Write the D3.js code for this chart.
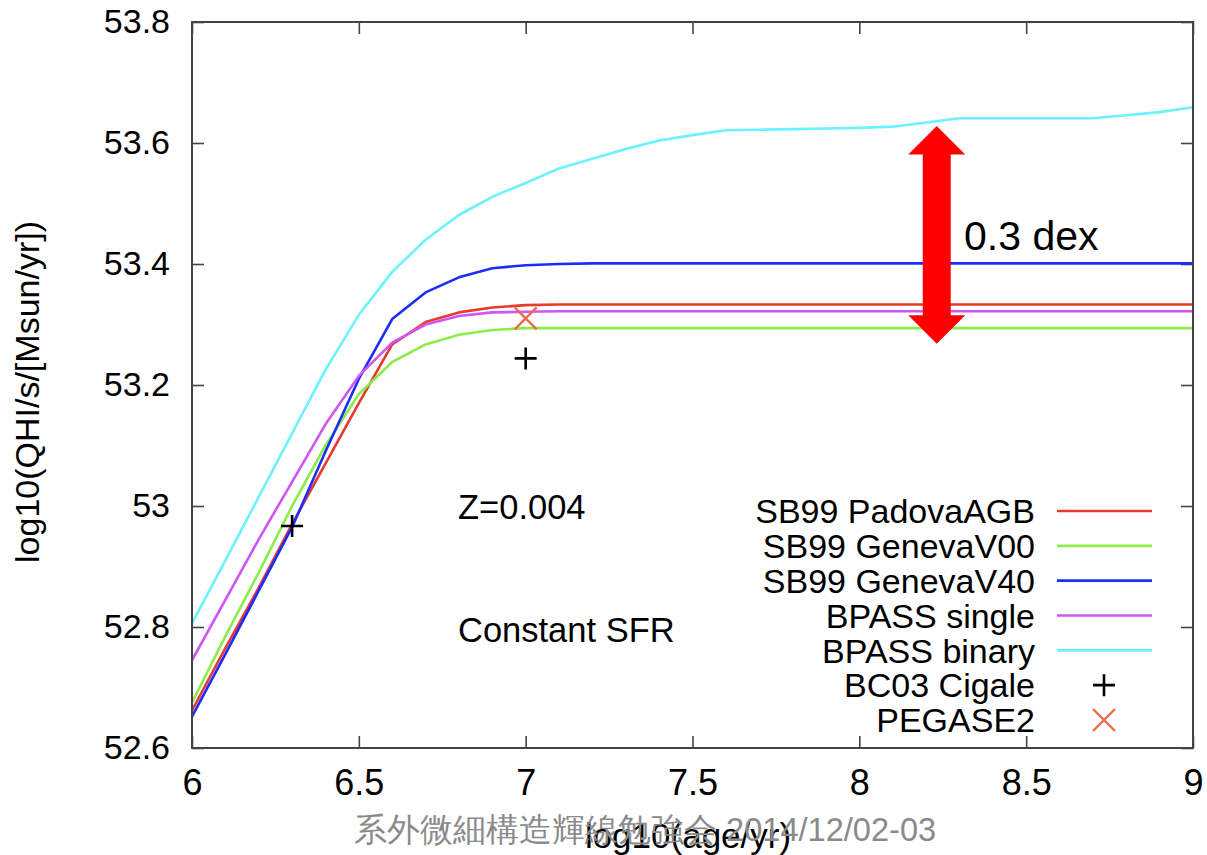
<!DOCTYPE html>
<html>
<head>
<meta charset="utf-8">
<script src="https://cdn.jsdelivr.net/npm/d3@7"></script>
<style>
  body { margin: 0; background: #fff; }
  text { font-family: "Liberation Sans", Arial, sans-serif; }
</style>
</head>
<body>
<svg width="1207" height="855"></svg>
<script>
// log10(age/yr) sampling of the model tracks
var ages = [6.0, 6.1, 6.2, 6.3, 6.4, 6.5, 6.6, 6.7, 6.8, 6.9, 7.0,
            7.1, 7.2, 7.3, 7.4, 7.5, 7.6, 7.7, 7.8, 7.9, 8.0,
            8.1, 8.2, 8.3, 8.4, 8.5, 8.6, 8.7, 8.8, 8.9, 9.0];

// log10(QHI/s/[Msun/yr]) for each model
var padovaAGB = [52.662, 52.765, 52.865, 52.970, 53.070, 53.170, 53.267, 53.304, 53.320, 53.328, 53.332,
                 53.333, 53.333, 53.333, 53.333, 53.333, 53.333, 53.333, 53.333, 53.333, 53.333,
                 53.333, 53.333, 53.333, 53.333, 53.333, 53.333, 53.333, 53.333, 53.333, 53.333];
var genevaV00 = [52.675, 52.785, 52.890, 53.000, 53.100, 53.185, 53.238, 53.267, 53.283, 53.291, 53.294,
                 53.294, 53.294, 53.294, 53.294, 53.294, 53.294, 53.294, 53.294, 53.294, 53.294,
                 53.294, 53.294, 53.294, 53.294, 53.294, 53.294, 53.294, 53.294, 53.294, 53.294];
var genevaV40 = [52.652, 52.755, 52.860, 52.965, 53.090, 53.210, 53.309, 53.353, 53.378, 53.393, 53.398,
                 53.400, 53.401, 53.401, 53.401, 53.401, 53.401, 53.401, 53.401, 53.401, 53.401,
                 53.401, 53.401, 53.401, 53.401, 53.401, 53.401, 53.401, 53.401, 53.401, 53.401];
var bpassSingle = [52.745, 52.845, 52.945, 53.040, 53.135, 53.215, 53.270, 53.300, 53.314, 53.320, 53.321,
                   53.322, 53.322, 53.322, 53.322, 53.322, 53.322, 53.322, 53.322, 53.322, 53.322,
                   53.322, 53.322, 53.322, 53.322, 53.322, 53.322, 53.322, 53.322, 53.322, 53.322];
var bpassBinary = [52.806, 52.910, 53.015, 53.120, 53.225, 53.316, 53.387, 53.440, 53.481, 53.511, 53.534,
                   53.558, 53.574, 53.590, 53.604, 53.613, 53.621, 53.622, 53.623, 53.624, 53.625,
                   53.627, 53.634, 53.641, 53.641, 53.641, 53.641, 53.641, 53.646, 53.651, 53.659];

// single-point models
var cigaleAges = [6.3, 7.0];
var cigaleQ = [52.967, 53.244];
var pegaseAges = [7.0];
var pegaseQ = [53.310];

var seriesNames = ['SB99 PadovaAGB', 'SB99 GenevaV00', 'SB99 GenevaV40', 'BPASS single', 'BPASS binary'];
var seriesValues = [padovaAGB, genevaV00, genevaV40, bpassSingle, bpassBinary];
var seriesColors = ['#e8392f', '#8ced48', '#1a2dff', '#cf55f5', '#6af2ff'];

var xTicks = [6, 6.5, 7, 7.5, 8, 8.5, 9];
var yTicks = [52.6, 52.8, 53.0, 53.2, 53.4, 53.6, 53.8];

// annotation: 0.3 dex arrow
var arrowAge = 8.232;
var arrowTop = 53.628;
var arrowBottom = 53.268;

var svg = d3.select('svg');
var plot = {l: 192, r: 1193, t: 22, b: 748};

var x = d3.scaleLinear().domain([6, 9]).range([plot.l, plot.r]);
var y = d3.scaleLinear().domain([52.6, 53.8]).range([plot.b, plot.t]);

svg.append('clipPath').attr('id', 'clip')
  .append('rect')
  .attr('x', plot.l).attr('y', plot.t)
  .attr('width', plot.r - plot.l).attr('height', plot.b - plot.t);

// axes: ticks inside, mirrored
var tickLen = 12;
var axisColor = '#444';

var bottomAxis = svg.append('g')
  .attr('transform', 'translate(0,' + plot.b + ')')
  .call(d3.axisBottom(x).tickValues(xTicks).tickSize(-tickLen).tickPadding(21)
    .tickFormat(function(d) { return d3.format('')(d); }));
var topAxis = svg.append('g')
  .attr('transform', 'translate(0,' + plot.t + ')')
  .call(d3.axisTop(x).tickValues(xTicks).tickSize(-tickLen).tickFormat(''));
var leftAxis = svg.append('g')
  .attr('transform', 'translate(' + plot.l + ',0)')
  .call(d3.axisLeft(y).tickValues(yTicks).tickSize(-tickLen).tickPadding(22)
    .tickFormat(function(d) { return d === 53 ? '53' : d3.format('.1f')(d); }));
var rightAxis = svg.append('g')
  .attr('transform', 'translate(' + plot.r + ',0)')
  .call(d3.axisRight(y).tickValues(yTicks).tickSize(-tickLen).tickFormat(''));

[bottomAxis, topAxis, leftAxis, rightAxis].forEach(function(g) {
  g.select('.domain').remove();
  g.selectAll('.tick line').attr('stroke', axisColor).attr('stroke-width', 1.6);
});

bottomAxis.selectAll('.tick text')
  .attr('font-family', '"Liberation Sans", Arial, sans-serif')
  .attr('font-size', 36)
  .attr('fill', '#000');
leftAxis.selectAll('.tick text')
  .attr('font-family', '"Liberation Sans", Arial, sans-serif')
  .attr('font-size', 34)
  .attr('fill', '#000');

// model tracks
var line = d3.line()
  .x(function(d) { return x(d[0]); })
  .y(function(d) { return y(d[1]); });

var tracks = svg.append('g').attr('clip-path', 'url(#clip)');
seriesValues.forEach(function(vals, i) {
  tracks.append('path')
    .datum(ages.map(function(a, j) { return [a, vals[j]]; }))
    .attr('fill', 'none')
    .attr('stroke', seriesColors[i])
    .attr('stroke-width', 2.6)
    .attr('stroke-linejoin', 'round')
    .attr('d', line);
});

// point markers
function plus(g, cx, cy, s) {
  g.append('path')
    .attr('d', 'M' + (cx - s) + ',' + cy + 'H' + (cx + s) + 'M' + cx + ',' + (cy - s) + 'V' + (cy + s))
    .attr('stroke', '#000').attr('stroke-width', 2.6).attr('fill', 'none');
}
function cross(g, cx, cy, s) {
  g.append('path')
    .attr('d', 'M' + (cx - s) + ',' + (cy - s) + 'L' + (cx + s) + ',' + (cy + s) +
               'M' + (cx - s) + ',' + (cy + s) + 'L' + (cx + s) + ',' + (cy - s))
    .attr('stroke', '#ee6a48').attr('stroke-width', 2.4).attr('fill', 'none');
}
var marks = svg.append('g');
cigaleAges.forEach(function(a, i) { plus(marks, x(a), y(cigaleQ[i]), 11); });
pegaseAges.forEach(function(a, i) { cross(marks, x(a), y(pegaseQ[i]), 11); });

// frame
svg.append('rect')
  .attr('x', plot.l).attr('y', plot.t)
  .attr('width', plot.r - plot.l).attr('height', plot.b - plot.t)
  .attr('fill', 'none').attr('stroke', axisColor).attr('stroke-width', 2);

// axis titles
svg.append('text')
  .attr('x', 688).attr('y', 848)
  .attr('text-anchor', 'middle')
  .attr('font-size', 35)
  .text('log10(age/yr)');
svg.append('text')
  .attr('transform', 'translate(39,392) rotate(-90)')
  .attr('text-anchor', 'middle')
  .attr('font-size', 34)
  .text('log10(QHI/s/[Msun/yr])');

// in-plot labels
svg.append('text').attr('x', 458).attr('y', 519).attr('font-size', 34.5).text('Z=0.004');
svg.append('text').attr('x', 458).attr('y', 642).attr('font-size', 34.5).text('Constant SFR');

// legend
var legendNames = seriesNames.concat(['BC03 Cigale', 'PEGASE2']);
var legendRowY = d3.scaleLinear().domain([0, 6]).range([511, 720]);
legendNames.forEach(function(name, i) {
  var ly = legendRowY(i);
  svg.append('text')
    .attr('x', 1035).attr('y', ly).attr('dy', '0.36em')
    .attr('text-anchor', 'end').attr('font-size', 34)
    .text(name);
  if (i < seriesColors.length) {
    svg.append('line')
      .attr('x1', 1057).attr('x2', 1152).attr('y1', ly).attr('y2', ly)
      .attr('stroke', seriesColors[i]).attr('stroke-width', 2.6);
  } else if (i === 5) {
    plus(svg, 1104, ly, 11);
  } else {
    cross(svg, 1104, ly, 11);
  }
});

// 0.3 dex double arrow
var ax = x(arrowAge), aT = y(arrowTop), aB = y(arrowBottom);
var headW = 28.5, headH = 28.5, shaftW = 14;
svg.append('path')
  .attr('d', [
    'M', ax, aT,
    'L', ax + headW, aT + headH,
    'L', ax + shaftW, aT + headH,
    'L', ax + shaftW, aB - headH,
    'L', ax + headW, aB - headH,
    'L', ax, aB,
    'L', ax - headW, aB - headH,
    'L', ax - shaftW, aB - headH,
    'L', ax - shaftW, aT + headH,
    'L', ax - headW, aT + headH, 'Z'].join(' '))
  .attr('fill', '#ff0000');
svg.append('text')
  .attr('x', 964).attr('y', 250)
  .attr('font-family', '"Open Sans", sans-serif')
  .attr('font-size', 41)
  .text('0.3 dex');

// footer
svg.append('text')
  .attr('x', 354).attr('y', 841)
  .attr('font-family', '"Noto Sans CJK JP", sans-serif')
  .attr('font-size', 32.6)
  .attr('font-weight', 300)
  .attr('fill', '#8a8a8a')
  .text('系外微細構造輝線勉強会 2014/12/02-03');
</script>
</body>
</html>
